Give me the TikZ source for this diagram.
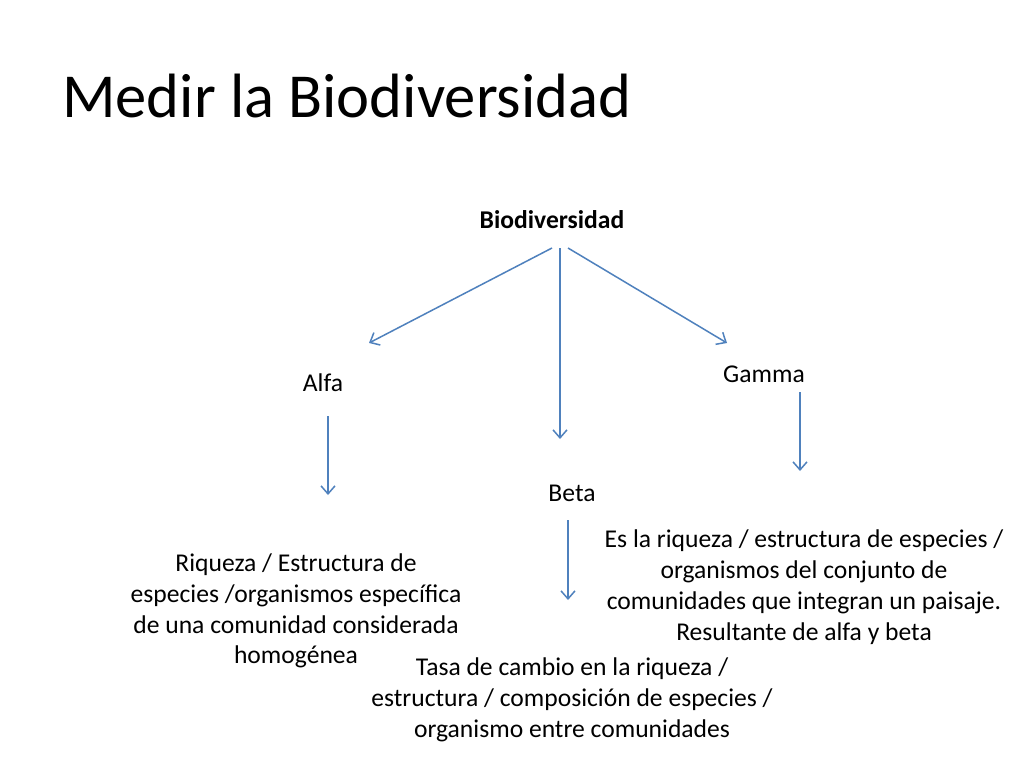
\documentclass[tikz,border=0pt]{standalone}
\usepackage{fontspec}
\setmainfont{Carlito}
\usetikzlibrary{arrows.meta}
\definecolor{arrowblue}{HTML}{4F81BD}
\begin{document}
\begin{tikzpicture}[x=1pt,y=-1pt,
  txt/.style={inner sep=0pt,align=center,font=\fontsize{25.6}{30.8}\selectfont,text=black},
  conn/.style={draw=arrowblue,line width=1.5pt,-{Straight Barb[length=8pt,width=14pt,line width=1.5pt]}}]
\useasboundingbox[fill=white] (0,0) rectangle (1024,768);
\node[anchor=base west,inner sep=0pt,font=\fontsize{62.6}{70}\selectfont] (title) at (62,117) {Medir la Biodiversidad};
\node[txt,font=\fontsize{25.6}{30.8}\selectfont\bfseries] (bio) at (552,220) {Biodiversidad};
\node[txt] (alfa) at (323,383) {Alfa};
\node[txt] (gamma) at (764,374) {Gamma};
\node[txt] (beta) at (572,493) {Beta};
\node[txt] (alfatxt) at (296,611) {Riqueza / Estructura de\\especies /organismos específica\\de una comunidad considerada\\homogénea};
\node[txt] (gammatxt) at (804,587) {Es la riqueza / estructura de especies /\\organismos del conjunto de\\comunidades que integran un paisaje.\\Resultante de alfa y beta};
\node[txt] (betatxt) at (572,700) {Tasa de cambio en la riqueza /\\estructura / composición de especies /\\organismo entre comunidades};
% connector endpoints
\coordinate (b1) at (552,248);
\coordinate (b2) at (560,248);
\coordinate (b3) at (568,248);
\coordinate (alfaend) at (369,343);
\coordinate (betaend) at (560,439);
\coordinate (gammaend) at (727,343);
\coordinate (a1) at (328,416);
\coordinate (a2) at (328,495);
\coordinate (g1) at (800,392);
\coordinate (g2) at (800,471);
\coordinate (e1) at (568,520);
\coordinate (e2) at (568,600);
\draw[conn] (b1) -- (alfaend);
\draw[conn] (b2) -- (betaend);
\draw[conn] (b3) -- (gammaend);
\draw[conn] (a1) -- (a2);
\draw[conn] (g1) -- (g2);
\draw[conn] (e1) -- (e2);
\end{tikzpicture}
\end{document}
